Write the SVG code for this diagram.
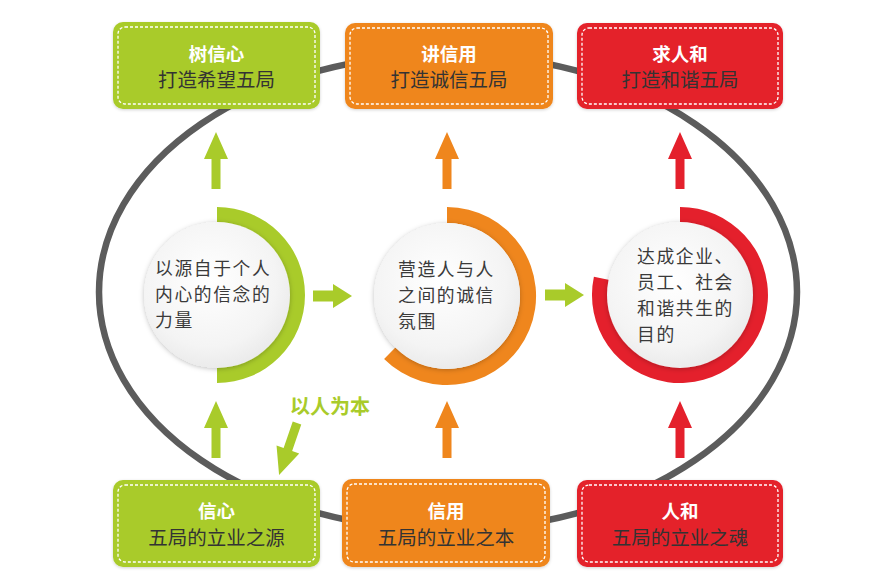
<svg xmlns="http://www.w3.org/2000/svg" width="894" height="574" viewBox="0 0 894 574">
<style>
.t{font-family:"Noto Sans CJK SC","Noto Sans",sans-serif;}
.ttl{font-size:18.5px;font-weight:bold;fill:#ffffff;text-anchor:middle;}
.sub{font-size:19.5px;fill:#333333;text-anchor:middle;}
.ct{font-size:17.8px;letter-spacing:1.6px;fill:#3a3a3a;}
.dash{fill:none;stroke:#ffffff;stroke-width:1.3;stroke-dasharray:3 2;}
.g{fill:#a9cb2a;}
.o{fill:#ef861d;}
.r{fill:#e4202c;}
.disc{fill:url(#discg);filter:url(#sh);}
</style>
<defs>
<radialGradient id="discg" cx="0.45" cy="0.4" r="0.65">
<stop offset="0" stop-color="#ffffff"/>
<stop offset="0.7" stop-color="#f4f4f4"/>
<stop offset="1" stop-color="#e8e8e8"/>
</radialGradient>
<filter id="sh" x="-20%" y="-20%" width="140%" height="140%">
<feDropShadow dx="0" dy="1" stdDeviation="2.5" flood-color="#000" flood-opacity="0.25"/>
</filter>
<filter id="bs" x="-10%" y="-10%" width="120%" height="130%">
<feDropShadow dx="0" dy="1" stdDeviation="1.5" flood-color="#000" flood-opacity="0.18"/>
</filter>
<polygon id="up" points="-4.5,0 -4.5,-30 -12,-30 0,-57 12,-30 4.5,-30 4.5,0"/>
<polygon id="right" points="0,-5.5 20,-5.5 20,-12 39,0 20,12 20,5.5 0,5.5"/>
</defs>

<g id="connectors">
<ellipse cx="448" cy="292" rx="349" ry="238" fill="none" stroke="#5c5c5c" stroke-width="6.5"/>
<use href="#up" x="216" y="189" class="g"/>
<use href="#up" x="447" y="189" class="o"/>
<use href="#up" x="680" y="189" class="r"/>
<use href="#up" x="216" y="458" class="g"/>
<use href="#up" x="447" y="458" class="o"/>
<use href="#up" x="680" y="458" class="r"/>
<use href="#right" x="313" y="296" class="g"/>
<use href="#right" x="545" y="295" class="g"/>
<polygon class="g" transform="translate(297,423) rotate(19)" points="-4.5,0 4.5,0 4.5,28 12,28 0,55 -12,28 -4.5,28"/>
<text class="t" x="330" y="414" style="font-size:20px;font-weight:bold;fill:#a9cb2a;text-anchor:middle">以人为本</text>
</g>

<g id="box-shuxinxin">
<rect x="113" y="22" width="207" height="87" rx="10" class="g" filter="url(#bs)"/>
<rect x="118" y="27" width="197" height="77" rx="7" class="dash"/>
<text class="t ttl" x="216.5" y="61">树信心</text>
<text class="t sub" x="216.5" y="87">打造希望五局</text>
</g>
<g id="box-jiangxinyong">
<rect x="345" y="23" width="208" height="86" rx="10" class="o" filter="url(#bs)"/>
<rect x="350" y="28" width="198" height="76" rx="7" class="dash"/>
<text class="t ttl" x="449" y="61">讲信用</text>
<text class="t sub" x="449" y="87">打造诚信五局</text>
</g>
<g id="box-qiurenhe">
<rect x="577" y="23" width="206" height="86" rx="10" class="r" filter="url(#bs)"/>
<rect x="582" y="28" width="196" height="76" rx="7" class="dash"/>
<text class="t ttl" x="680" y="61">求人和</text>
<text class="t sub" x="680" y="87">打造和谐五局</text>
</g>

<g id="box-xinxin">
<rect x="113" y="480" width="207" height="87" rx="10" class="g" filter="url(#bs)"/>
<rect x="118" y="485" width="197" height="77" rx="7" class="dash"/>
<text class="t ttl" x="216.5" y="518">信心</text>
<text class="t sub" x="216.5" y="545">五局的立业之源</text>
</g>
<g id="box-xinyong">
<rect x="342" y="479" width="208" height="88" rx="10" class="o" filter="url(#bs)"/>
<rect x="347" y="484" width="198" height="78" rx="7" class="dash"/>
<text class="t ttl" x="446" y="518">信用</text>
<text class="t sub" x="446" y="545">五局的立业之本</text>
</g>
<g id="box-renhe">
<rect x="577" y="480" width="206" height="87" rx="10" class="r" filter="url(#bs)"/>
<rect x="582" y="485" width="196" height="77" rx="7" class="dash"/>
<text class="t ttl" x="680" y="518">人和</text>
<text class="t sub" x="680" y="545">五局的立业之魂</text>
</g>

<g id="circle-green">
<path class="g" d="M217,207 A88,88 0 0 1 217,383 L217,367 A72,72 0 0 0 217,223 Z"/>
<circle cx="217" cy="295" r="73" class="disc"/>
<text class="t ct" x="155" y="275">以源自于个人</text>
<text class="t ct" x="155" y="301">内心的信念的</text>
<text class="t ct" x="155" y="327">力量</text>
</g>

<g id="circle-orange">
<path class="o" d="M447,207 A89,89 0 1 1 384.1,358.9 L395.4,347.6 A73,73 0 1 0 447,223 Z"/>
<circle cx="447" cy="296" r="73" class="disc"/>
<text class="t ct" x="398" y="276">营造人与人</text>
<text class="t ct" x="398" y="302">之间的诚信</text>
<text class="t ct" x="398" y="328">氛围</text>
</g>

<g id="circle-red">
<path class="r" d="M680,207 A88,88 0 1 1 593.9,276.7 L609.6,280.0 A72,72 0 1 0 680,223 Z"/>
<circle cx="680" cy="295" r="73" class="disc"/>
<text class="t ct" x="637" y="263">达成企业、</text>
<text class="t ct" x="637" y="289">员工、社会</text>
<text class="t ct" x="637" y="315">和谐共生的</text>
<text class="t ct" x="637" y="341">目的</text>
</g>
</svg>
